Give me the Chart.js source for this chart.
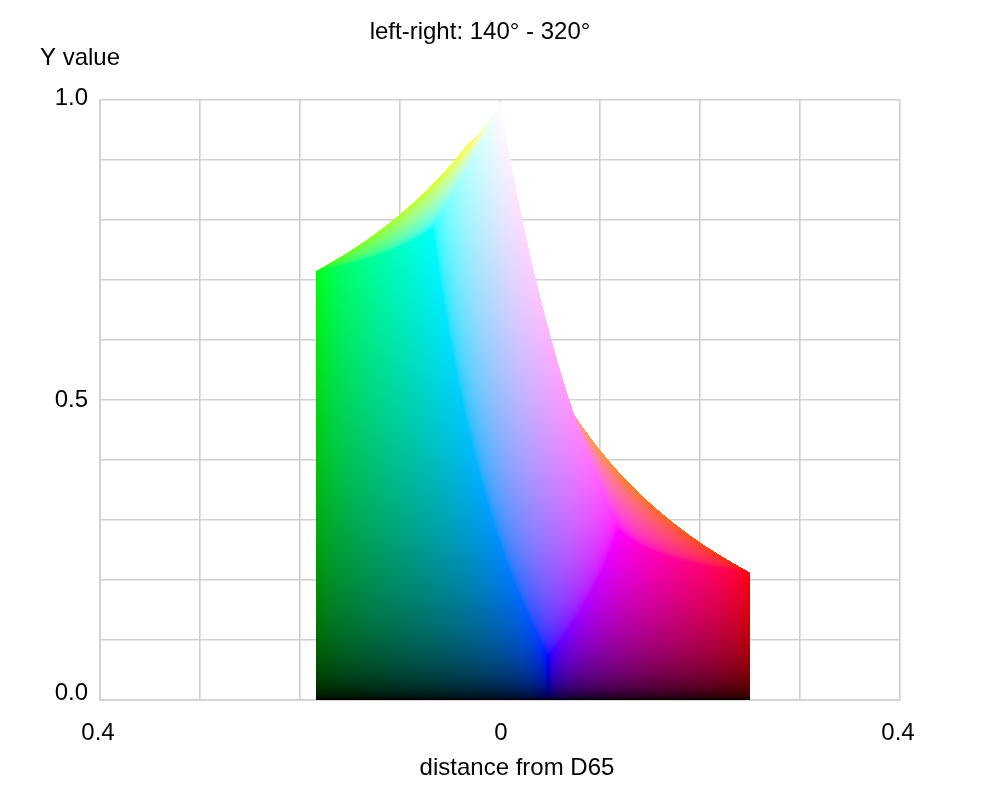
<!DOCTYPE html>
<html>
<head>
<meta charset="utf-8">
<script src="https://cdn.jsdelivr.net/npm/chart.js@4/dist/chart.umd.min.js"></script>
<style>html,body{margin:0;padding:0;background:#fff}canvas{display:block}</style>
</head>
<body>
<canvas id="c" width="1000" height="800"></canvas>
<script>
// Text
const chartTitle = 'left-right: 140° - 320°';
const yAxisTitle = 'Y value';
const xAxisTitle = 'distance from D65';
// Axis ticks
const xTickValues = [-0.4, 0, 0.4];
const xTickLabels = ['0.4', '0', '0.4'];
const yTickValues = [0, 0.5, 1];
const yTickLabels = ['0.0', '0.5', '1.0'];
// Silhouette of the colour solid
const outlineX = [-0.184,-0.184,-0.1565,-0.1323,-0.1108,-0.0916,-0.0743,-0.0588,-0.0445,-0.0316,-0.0204,-0.0119,-0.0053,0,0.0095,0.02,0.0317,0.0448,0.0597,0.0742,0.0951,0.1128,0.1416,0.1686,0.1882,0.2068,0.2288,0.25,0.25];
const outlineY = [0,0.7152,0.7418,0.768,0.7949,0.8215,0.8481,0.8747,0.9012,0.9278,0.9459,0.9639,0.982,1,0.9106,0.8212,0.7318,0.6424,0.553,0.4758,0.4272,0.3914,0.3413,0.302,0.277,0.2555,0.234,0.2126,0];
// Primary corners of the solid: position on the chart and relative weight
const primaryX = [0.2501, -0.1839, 0.0483];   // red, green, blue
const primaryY = [0.2126, 0.7152, 0.0722];
const primaryWeight = [0.6441, 1.192, 1.2033];
// Visible faces, topmost first: the channel held fixed and its level
const faceChannel = [2, 0, 1, 1, 0, 2];
const faceLevel   = [1, 0, 0, 1, 1, 0];

function encode(c){
  const v = c <= 0.0031308 ? 12.92*c : 1.055*Math.pow(c,1/2.4)-0.055;
  return Math.max(0,Math.min(255,Math.round(v*255)));
}
function shadeAt(d, Y){
  const A = primaryWeight.map((s,i)=>s*(primaryX[i]-d));
  for (let f=0; f<faceChannel.length; f++){
    const k = faceChannel[f], v = faceLevel[f];
    const i = (k+1)%3, j = (k+2)%3;
    const r1 = Y - primaryY[k]*v, r2 = -A[k]*v;
    const det = primaryY[i]*A[j] - primaryY[j]*A[i];
    if (Math.abs(det) < 1e-12) continue;
    const a = (r1*A[j] - primaryY[j]*r2)/det;
    const b = (primaryY[i]*r2 - A[i]*r1)/det;
    const eps = 1e-4;
    if (a < -eps || a > 1+eps || b < -eps || b > 1+eps) continue;
    const rgb = [0,0,0];
    rgb[k]=v; rgb[i]=Math.max(0,Math.min(1,a)); rgb[j]=Math.max(0,Math.min(1,b));
    return rgb;
  }
  return null;
}
function buildPattern(chart){
  const W = chart.width, H = chart.height, sx = chart.scales.x, sy = chart.scales.y;
  const off = document.createElement('canvas'); off.width = W; off.height = H;
  const g = off.getContext('2d'), img = g.createImageData(W,H);
  for (let py=Math.floor(sy.top); py<Math.ceil(sy.bottom); py++){
    const Y = Math.max(1e-5, sy.getValueForPixel(py+0.5));
    for (let px=Math.floor(sx.left); px<Math.ceil(sx.right); px++){
      const rgb = shadeAt(sx.getValueForPixel(px+0.5), Y);
      if (!rgb) continue;
      const o = (py*W+px)*4;
      img.data[o]=encode(rgb[0]); img.data[o+1]=encode(rgb[1]); img.data[o+2]=encode(rgb[2]); img.data[o+3]=255;
    }
  }
  g.putImageData(img,0,0);
  return chart.ctx.createPattern(off,'no-repeat');
}

const fontFamily = '"Liberation Sans", Arial, sans-serif';
const yLabelShift = {'1.0':-2,'0.5':0,'0.0':-7};
const xLabelShift = [-2, 1, -2];

const textPlugin = {
  id:'chartText',
  beforeDraw(chart){
    const y = chart.scales.y, x = chart.scales.x;
    y.getLabelItems().forEach(item=>{
      if (item.label) {
        const v = yTickValues[yTickLabels.indexOf(item.label)];
        item.options.translation[1] = y.getPixelForValue(v) + yLabelShift[item.label];
      }
    });
    x.getLabelItems().filter(item=>item.label).forEach((item,n)=>{
      item.options.translation[0] = x.getPixelForValue(xTickValues[n]) + xLabelShift[n];
    });
  },
  afterDraw(chart){
    const c = chart.ctx;
    c.save();
    c.fillStyle='#000'; c.font='24px '+fontFamily; c.textBaseline='middle';
    c.textAlign='center';
    c.fillText(chartTitle, 480, 32);
    c.fillText(xAxisTitle, 517, 768);
    c.textAlign='left';
    c.fillText(yAxisTitle, 40, 58);
    c.restore();
  }
};

const chart = new Chart(document.getElementById('c').getContext('2d'), {
  type:'scatter',
  data:{datasets:[{
    label:'sRGB solid',
    data: outlineX.map((x,i)=>({x, y:outlineY[i]})),
    showLine:true, fill:'shape', tension:0,
    borderWidth:0, borderColor:'rgba(0,0,0,0)', pointRadius:0, pointHoverRadius:0,
    backgroundColor:'#888'
  }]},
  options:{
    responsive:false, animation:false, events:[],
    layout:{padding:{left:0,top:100,right:100,bottom:0}},
    plugins:{legend:{display:false},tooltip:{enabled:false},title:{display:false}},
    scales:{
      x:{type:'linear',min:-0.4,max:0.4,
        afterFit(s){s.height=100;},
        grid:{color:'#cfcfcf',lineWidth:1.6,drawTicks:false},
        border:{color:'#cfcfcf',width:1.6},
        ticks:{stepSize:0.1,autoSkip:false,maxRotation:0,padding:19,color:'#000',
          font:{family:fontFamily,size:24},
          callback(v){const i=xTickValues.findIndex(t=>Math.abs(t-v)<1e-6);return i<0?'':xTickLabels[i];}}},
      y:{type:'linear',min:0,max:1,
        afterFit(s){s.width=100;},
        grid:{color:'#cfcfcf',lineWidth:1.6,drawTicks:false},
        border:{color:'#cfcfcf',width:1.6},
        ticks:{stepSize:0.1,autoSkip:false,padding:12,color:'#000',
          font:{family:fontFamily,size:24},
          callback(v){const i=yTickValues.findIndex(t=>Math.abs(t-v)<1e-6);return i<0?'':yTickLabels[i];}}}
    }
  },
  plugins:[textPlugin]
});
chart.data.datasets[0].backgroundColor = buildPattern(chart);
chart.update('none');
</script>
</body>
</html>
